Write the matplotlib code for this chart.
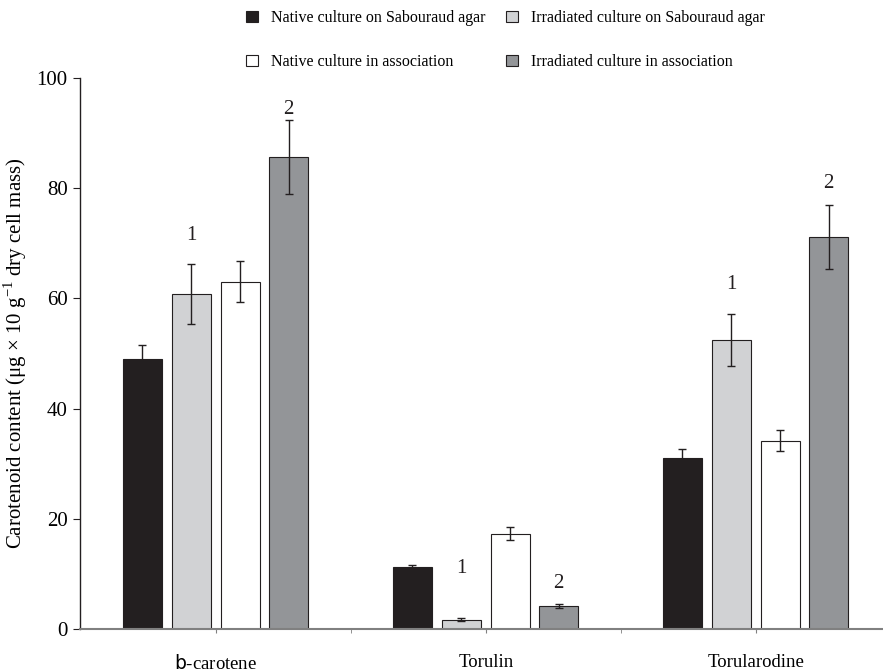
import matplotlib.pyplot as plt
import numpy as np
from matplotlib.patches import Patch

# data
pigments = [r"$\mathsf{b}$-carotene", "Torulin", "Torularodine"]
series = ["Native culture on Sabouraud agar",
          "Irradiated culture on Sabouraud agar",
          "Native culture in association",
          "Irradiated culture in association"]
native_sab = [49.0, 11.3, 31.0]
native_sab_err = [2.6, 0.3, 1.6]
irr_sab = [60.8, 1.7, 52.4]
irr_sab_err = [5.4, 0.3, 4.7]
native_assoc = [63.0, 17.3, 34.2]
native_assoc_err = [3.7, 1.2, 1.9]
irr_assoc = [85.6, 4.2, 71.2]
irr_assoc_err = [6.7, 0.4, 5.8]

# "1" / "2" marks above the irradiated bars
mark_irr_sab = ["1", "1", "1"]
mark_irr_sab_y = [71.4, 11.0, 62.6]
mark_irr_assoc = ["2", "2", "2"]
mark_irr_assoc_y = [94.2, 8.3, 80.8]

colors = ["#231f20", "#d1d2d4", "#ffffff", "#939598"]
ink = "#231f20"

plt.rcParams['font.family'] = ['Liberation Serif', 'DejaVu Serif']
plt.rcParams['mathtext.fontset'] = 'dejavusans'

fig = plt.figure(figsize=(8.83, 6.72), dpi=100)
ax = fig.add_axes([80 / 883, 1 - 629 / 672, 802 / 883, (629 - 78) / 672])

x = np.arange(len(pigments))
width = 0.144
offsets = [-0.273, -0.091, 0.091, 0.27]
values = [native_sab, irr_sab, native_assoc, irr_assoc]
errors = [native_sab_err, irr_sab_err, native_assoc_err, irr_assoc_err]

for off, val, err, col in zip(offsets, values, errors, colors):
    ax.bar(x + off, val, width, color=col, edgecolor=ink, linewidth=0.8, zorder=2)
    ax.errorbar(x + off, val, yerr=err, fmt='none', ecolor=ink, elinewidth=1,
                capsize=3.2, capthick=1, zorder=3)

for i in range(len(pigments)):
    ax.text(x[i] + offsets[1], mark_irr_sab_y[i], mark_irr_sab[i],
            ha='center', va='center', fontsize=15, color=ink)
    ax.text(x[i] + offsets[3], mark_irr_assoc_y[i], mark_irr_assoc[i],
            ha='center', va='center', fontsize=15, color=ink)

ax.set_xlim(-0.503, 2.467)
ax.set_ylim(0, 100)
ax.set_yticks([0, 20, 40, 60, 80, 100])
ax.set_xticks(x)
ax.set_xticklabels(pigments, fontsize=13.5)
ax.set_xticks([0.5, 1.5], minor=True)
ax.tick_params(axis='x', which='both', length=3, color='#808080', pad=15)
ax.tick_params(axis='y', length=5, color=ink, labelsize=15, pad=4)

for s in ['top', 'right']:
    ax.spines[s].set_visible(False)
ax.spines['left'].set_color(ink)
ax.spines['left'].set_linewidth(1)
ax.spines['bottom'].set_color('#808080')
ax.spines['bottom'].set_linewidth(1.5)

ax.set_ylabel(r"Carotenoid content (μg × 10 g$^{\mathregular{-1}}$ dry cell mass)",
              fontsize=15, labelpad=5)

handles = [Patch(facecolor=c, edgecolor=ink, linewidth=0.8) for c in colors]
order = [0, 2, 1, 3]
fig.legend([handles[i] for i in order], [series[i] for i in order],
           loc='upper left', bbox_to_anchor=(246 / 883, 1 - 10 / 672), ncol=2,
           frameon=False, fontsize=11.5, handlelength=0.75, handleheight=0.75,
           handletextpad=0.8, columnspacing=1.3, labelspacing=1.75, borderpad=0,
           borderaxespad=0)

fig.savefig("out.png", dpi=100)
